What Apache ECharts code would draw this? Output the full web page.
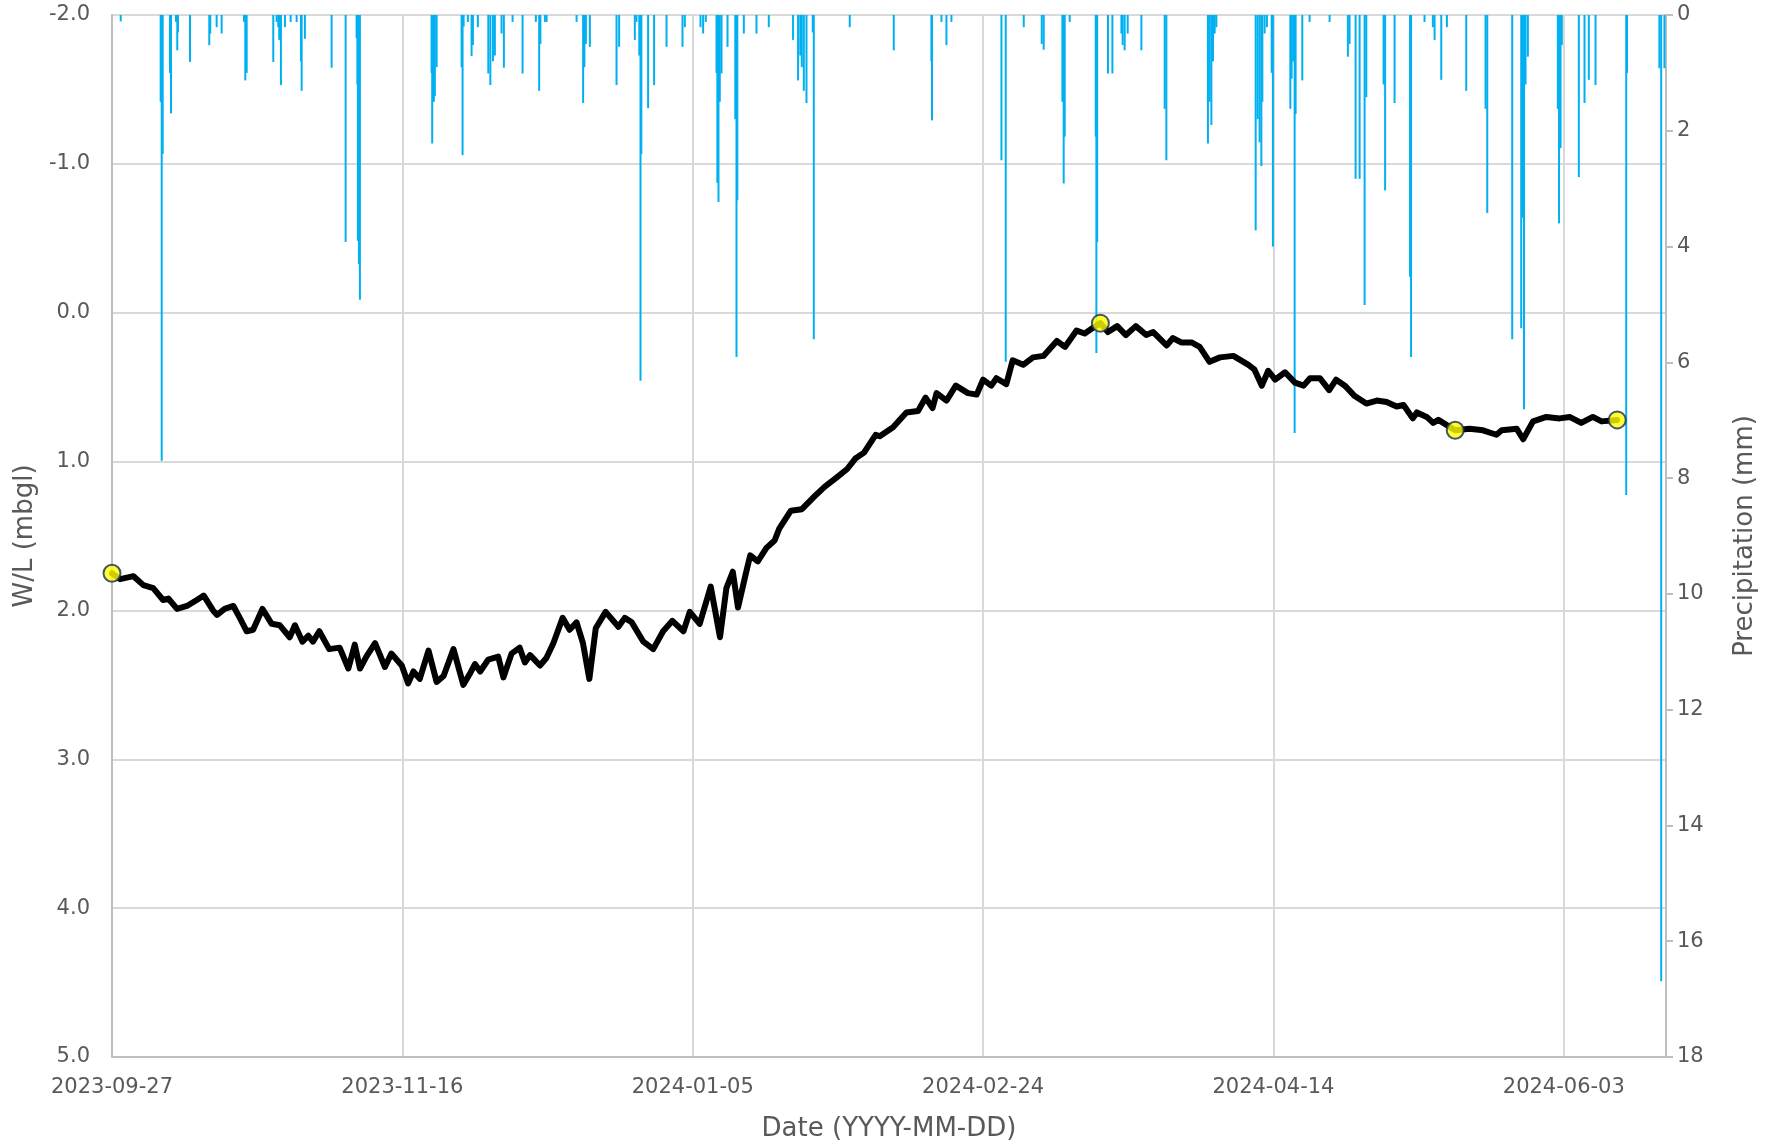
<!DOCTYPE html>
<html>
<head>
<meta charset="utf-8">
<title>W/L and precipitation</title>
<script src="https://cdn.jsdelivr.net/npm/echarts@6/dist/echarts.min.js"></script>
<style>
  html, body { margin: 0; padding: 0; background: #fff; }
  #chart { width: 1772px; height: 1147px; }
</style>
</head>
<body>
<div id="chart"></div>
<script>
// all x values are days after 2023-09-27 00:00
const START = Date.UTC(2023, 8, 27);

// logger water level (mbgl)
const wlDay = [0, 1.4, 3.7, 5.4, 7.1, 8.8, 9.7, 11.2, 12.9, 14.6, 15.8, 17.4, 18.1, 19.4, 20.9, 22.0, 23.2, 24.3, 25.9, 27.5,
  28.9, 30.6, 31.5, 32.8, 33.8, 34.6, 35.7, 37.4, 39.2, 40.7, 41.8, 42.7, 43.8, 45.3, 47.0, 48.1, 49.9, 51.0, 51.9, 53.0,
  54.5, 55.9, 57.1, 58.8, 60.5, 61.7, 62.5, 63.4, 64.8, 66.5, 67.4, 68.8, 70.2, 71.1, 72.0, 73.7, 74.8, 76.0, 77.6, 78.8,
  80.0, 81.1, 82.2, 83.3, 85.0, 87.2, 88.3, 89.5, 91.5, 93.2, 94.9, 96.5, 98.4, 99.5, 101.2, 103.1, 104.7, 105.8, 106.9, 107.8,
  109.1, 109.9, 111.2, 112.7, 114.1, 114.9, 116.9, 118.8, 120.8, 122.7, 124.7, 126.6, 128.0, 129.5, 131.5, 132.2, 134.5, 136.8, 138.8, 140.1,
  141.3, 142.0, 143.7, 145.3, 147.4, 148.9, 150.0, 151.4, 152.3, 154.0, 155.1, 156.9, 158.6, 160.4, 162.7, 164.1, 166.1, 167.5, 169.0, 170.2,
  171.5, 173.1, 174.6, 176.3, 178.1, 179.3, 181.6, 182.7, 184.1, 185.9, 187.3, 189.0, 190.8, 193.1, 195.7, 196.7, 198.0, 199.1, 200.3, 202.0,
  203.7, 205.2, 206.3, 208.0, 209.6, 210.8, 212.3, 214.0, 216.0, 217.8, 219.5, 221.2, 222.4, 224.0, 224.7, 226.4, 227.5, 228.4, 231.3, 233.8,
  236.1, 238.4, 239.3, 241.9, 243.0, 244.7, 247.0, 249.3, 251.0, 253.0, 255.0, 256.5, 259.2];
const wlLevel = [1.75, 1.79, 1.77, 1.83, 1.85, 1.93, 1.92, 1.99, 1.97, 1.93, 1.90, 2.00, 2.03, 1.99, 1.97, 2.05, 2.14, 2.13, 1.99, 2.09,
  2.10, 2.18, 2.10, 2.21, 2.17, 2.21, 2.14, 2.26, 2.25, 2.39, 2.23, 2.39, 2.31, 2.22, 2.38, 2.29, 2.37, 2.49, 2.41, 2.46,
  2.27, 2.48, 2.44, 2.26, 2.50, 2.42, 2.36, 2.41, 2.33, 2.31, 2.45, 2.29, 2.25, 2.35, 2.30, 2.37, 2.32, 2.22, 2.05, 2.13,
  2.08, 2.22, 2.46, 2.12, 2.01, 2.11, 2.05, 2.08, 2.21, 2.26, 2.14, 2.07, 2.14, 2.01, 2.09, 1.84, 2.18, 1.85, 1.74, 1.98,
  1.76, 1.63, 1.67, 1.58, 1.53, 1.45, 1.33, 1.32, 1.24, 1.17, 1.11, 1.05, 0.98, 0.94, 0.82, 0.83, 0.77, 0.67, 0.66, 0.57,
  0.64, 0.54, 0.59, 0.49, 0.54, 0.55, 0.45, 0.49, 0.44, 0.48, 0.32, 0.35, 0.30, 0.29, 0.19, 0.23, 0.12, 0.14, 0.10, 0.07,
  0.13, 0.09, 0.15, 0.09, 0.15, 0.13, 0.22, 0.17, 0.20, 0.20, 0.23, 0.33, 0.30, 0.29, 0.35, 0.38, 0.49, 0.39, 0.45, 0.40,
  0.47, 0.49, 0.44, 0.44, 0.52, 0.45, 0.49, 0.56, 0.61, 0.59, 0.60, 0.63, 0.62, 0.71, 0.67, 0.70, 0.74, 0.72, 0.79, 0.78,
  0.79, 0.82, 0.79, 0.78, 0.85, 0.73, 0.70, 0.71, 0.70, 0.74, 0.70, 0.73, 0.72];

// manual dip readings (mbgl)
const dipDay = [0, 170.2, 231.3, 259.2];
const dipLevel = [1.75, 0.07, 0.79, 0.72];

// precipitation (mm)
const rainDay = [1.50, 8.38, 8.56, 8.73, 9.98, 10.16, 11.02, 11.24, 11.36, 13.43, 16.75, 16.92, 18.02, 18.88, 22.72, 22.95, 23.19,
  27.77, 28.35, 28.63, 28.80, 29.09, 29.78, 30.76, 31.80, 32.54, 32.66, 33.22, 37.82, 40.23, 42.12, 42.26, 42.35, 42.52, 42.69,
  55.03, 55.14, 55.43, 55.60, 55.90, 60.20, 60.37, 60.55, 61.28, 61.92, 62.15, 63.00, 64.80, 65.15, 65.60, 65.93, 67.08, 67.48,
  68.98, 70.70, 72.99, 73.56, 73.77, 74.54, 74.83, 80.00, 81.13, 81.34, 81.60, 82.29, 86.88, 87.33, 90.03, 90.32, 90.80, 91.01,
  91.15, 92.32, 93.35, 95.49, 98.24, 98.64, 101.34, 101.79, 102.25, 104.10, 104.24, 104.44, 104.66, 104.96, 105.99, 107.33,
  107.54, 107.68, 108.80, 110.98, 113.10, 117.28, 118.14, 118.52, 118.78, 119.13, 119.59, 120.67, 120.85, 127.04, 134.62,
  141.10, 141.20, 142.83, 143.69, 144.55, 153.16, 153.90, 157.00, 160.10, 160.44, 163.66, 163.88, 164.06, 164.92, 169.40,
  169.51, 169.65, 171.51, 172.27, 173.82, 174.04, 174.38, 174.90, 177.26, 181.27, 181.56, 188.72, 189.01, 189.31, 189.59,
  189.88, 190.17, 196.94, 197.28, 197.62, 197.92, 198.09, 198.48, 198.88, 199.70, 199.91, 202.91, 203.13, 203.39, 203.65,
  203.82, 204.97, 206.23, 209.67, 212.82, 213.11, 214.15, 214.84, 215.70, 215.99, 218.97, 219.23, 220.86, 223.53, 223.70,
  226.02, 227.45, 227.75, 228.90, 229.87, 233.20, 236.53, 236.82, 241.12, 242.67, 242.90, 243.15, 243.41, 243.81, 248.97,
  249.18, 249.44, 249.66, 252.59, 253.57, 254.31, 255.46, 260.75, 260.89, 266.46, 266.77, 267.33];
const rainMm = [0.11, 1.5, 7.7, 2.4, 1.0, 1.7, 0.12, 0.61, 0.3, 0.81, 0.52, 0.32, 0.21, 0.32, 0.12, 1.13, 1.0,
  0.81, 0.12, 0.21, 0.43, 1.21, 0.21, 0.12, 0.12, 0.8, 1.31, 0.41, 0.91, 3.92, 0.4, 1.2, 3.9, 4.3, 4.92,
  1.0, 2.22, 1.5, 1.4, 0.9, 0.9, 2.42, 0.2, 0.12, 0.71, 0.52, 0.21, 1.01, 1.21, 0.8, 0.7, 0.32, 0.91,
  0.12, 1.01, 0.12, 1.31, 0.5, 0.12, 0.12, 0.12, 1.52, 0.9, 0.5, 0.55, 1.21, 0.55, 0.43, 0.12, 0.7, 6.32,
  2.4, 1.61, 1.21, 0.55, 0.55, 0.21, 0.21, 0.32, 0.12, 1.0, 2.9, 3.23, 1.5, 1.01, 0.55, 1.8,
  5.91, 3.2, 0.32, 0.32, 0.21, 0.43, 1.13, 0.7, 0.9, 1.31, 1.52, 0.3, 5.6, 0.21, 0.61,
  0.8, 1.82, 0.12, 0.52, 0.12, 2.51, 5.99, 0.21, 0.5, 0.6, 1.5, 2.91, 2.1, 0.12, 2.1,
  5.84, 3.92, 1.01, 1.01, 0.32, 0.52, 0.61, 0.32, 0.61, 1.62, 2.51, 2.22, 1.5, 1.9, 0.8,
  0.32, 0.21, 3.72, 1.8, 2.2, 2.61, 1.5, 0.32, 0.21, 1.0, 4.0, 1.62, 1.1, 0.8, 7.22,
  1.71, 1.13, 0.12, 0.12, 0.72, 0.5, 2.83, 2.83, 5.01, 1.42, 1.2, 3.03, 1.52, 4.52, 5.91,
  0.12, 0.21, 0.43, 1.12, 0.21, 1.31, 1.62, 3.42, 5.6, 5.41, 3.5, 6.81, 1.2, 0.72, 1.62,
  3.6, 2.3, 0.52, 2.8, 1.52, 1.12, 1.21, 8.29, 1.0, 0.92, 16.69, 0.92];

const dayTicks = 50;
const lastDay = 267.6;

const zip = (a, b) => a.map((v, i) => [v, b[i]]);
const fmtDay = v => new Date(START + Math.round(v) * 86400000).toISOString().slice(0, 10);

const textColor = '#595959';
const font = 'DejaVu Sans';
const gridColor = '#d9d9d9';
const axisColor = '#bfbfbf';

const chart = echarts.init(document.getElementById('chart'));
chart.setOption({
  animation: false,
  backgroundColor: '#fff',
  textStyle: { fontFamily: font },
  grid: { left: 112, right: 106, top: 15, bottom: 90 },
  xAxis: {
    type: 'value',
    min: 0,
    max: lastDay,
    interval: dayTicks,
    name: 'Date (YYYY-MM-DD)',
    nameLocation: 'middle',
    nameGap: 59,
    nameTextStyle: { color: textColor, fontSize: 26, fontFamily: font },
    axisLine: { show: true, onZero: false, lineStyle: { color: axisColor, width: 2 } },
    axisTick: { show: false },
    axisLabel: { color: textColor, fontSize: 21, margin: 20, showMaxLabel: false, formatter: fmtDay },
    splitLine: { show: true, lineStyle: { color: gridColor, width: 2 } }
  },
  yAxis: [
    {
      type: 'value',
      inverse: true,
      min: -2,
      max: 5,
      interval: 1,
      name: 'W/L (mbgl)',
      nameLocation: 'middle',
      nameRotate: 90,
      nameGap: 70,
      nameTextStyle: { color: textColor, fontSize: 26, fontFamily: font },
      axisLine: { show: true, onZero: false, lineStyle: { color: axisColor, width: 2 } },
      axisTick: { show: false },
      axisLabel: { color: textColor, fontSize: 21, margin: 22, formatter: v => v.toFixed(1) },
      splitLine: { show: true, lineStyle: { color: gridColor, width: 2 } }
    },
    {
      type: 'value',
      inverse: true,
      min: 0,
      max: 18,
      interval: 2,
      position: 'right',
      name: 'Precipitation (mm)',
      nameLocation: 'middle',
      nameRotate: 90,
      nameGap: 66,
      nameTextStyle: { color: textColor, fontSize: 26, fontFamily: font },
      axisLine: { show: true, onZero: false, lineStyle: { color: axisColor, width: 2 } },
      axisTick: { show: true, inside: false, length: 7, lineStyle: { color: axisColor, width: 2 } },
      axisLabel: { color: textColor, fontSize: 21, margin: 11 },
      splitLine: { show: false }
    }
  ],
  series: [
    {
      name: 'Precipitation',
      type: 'bar',
      yAxisIndex: 1,
      barWidth: 2,
      itemStyle: { color: '#00b0f0' },
      data: zip(rainDay, rainMm),
      z: 1
    },
    {
      name: 'W/L',
      type: 'line',
      yAxisIndex: 0,
      showSymbol: false,
      symbol: 'none',
      lineStyle: { color: '#000', width: 6, join: 'round', cap: 'round' },
      data: zip(wlDay, wlLevel),
      z: 3
    },
    {
      name: 'Dip',
      type: 'scatter',
      yAxisIndex: 0,
      symbolSize: 17,
      itemStyle: { color: '#ffff00', borderColor: '#1a2a55', borderWidth: 2 },
      data: zip(dipDay, dipLevel),
      z: 4
    }
  ]
});
</script>
</body>
</html>
